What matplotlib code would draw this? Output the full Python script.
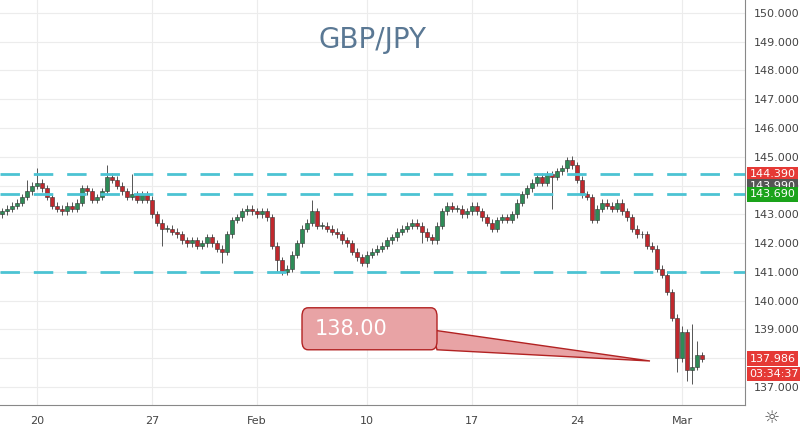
import numpy as np
import matplotlib.pyplot as plt
from matplotlib.patches import FancyBboxPatch, Polygon

# 8h candles, closes
closes = [143.1, 143.2, 143.3, 143.4, 143.6, 143.8, 144.0,
          144.1, 143.9, 143.6, 143.3,
          143.2, 143.1, 143.3, 143.2, 143.4,
          143.9, 143.8, 143.5, 143.6, 143.8,
          144.3, 144.2, 144.0, 143.8, 143.6,
          143.7, 143.5, 143.7, 143.5, 143.0,
          142.7, 142.5, 142.5, 142.4, 142.3,
          142.1, 142.0, 142.1, 141.9, 142.0,
          142.2, 142.0, 141.8, 141.7, 142.3,
          142.8, 142.9, 143.1, 143.2, 143.1,
          143.0, 143.1, 142.9, 141.9, 141.4,
          141.0, 141.1, 141.6, 142.0, 142.5,
          142.7, 143.1, 142.6, 142.6, 142.5,
          142.4, 142.3, 142.1, 142.0, 141.7,
          141.5, 141.3, 141.6, 141.7, 141.8,
          141.9, 142.1, 142.2, 142.4, 142.5,
          142.6, 142.7, 142.6, 142.4, 142.2,
          142.1, 142.6, 143.1, 143.3, 143.2,
          143.2, 143.0, 143.1, 143.3, 143.1,
          142.9, 142.7, 142.5, 142.8, 142.9,
          142.8, 143.0, 143.4, 143.7, 143.9,
          144.1, 144.3, 144.1, 144.4, 144.3,
          144.5, 144.6, 144.9, 144.7, 144.2,
          143.7, 143.6, 142.8, 143.2, 143.4,
          143.3, 143.2, 143.4, 143.1, 142.9,
          142.5, 142.3, 142.3, 141.9, 141.8,
          141.1, 140.9, 140.3, 139.4, 138.0,
          138.9, 137.6, 137.7, 138.1, 137.986]
first_open = 143.0
wick = 0.12
# notable wick extremes: index -> (high, low)
spikes = {5: (144.2, None), 7: (144.6, None), 21: (144.7, None), 26: (144.4, None),
          32: (None, 141.9), 44: (None, 141.3), 55: (None, 141.0), 56: (None, 140.9),
          62: (143.5, None), 72: (None, 141.2), 84: (None, 142.0), 110: (None, 143.2),
          113: (145.0, None), 118: (None, 142.7), 135: (None, 137.5), 136: (139.1, None),
          137: (None, 137.2), 138: (139.2, 137.1), 139: (138.6, None)}

tick_pos = [7, 30, 51, 73, 94, 115, 136]
tick_labels = ["20", "27", "Feb", "10", "17", "24", "Mar"]
levels = [144.39, 143.69, 141.0]
target = "138.00"

fig = plt.figure(figsize=(8, 4.3), dpi=100)
ax = fig.add_axes([0, 25 / 430, 745 / 800, 405 / 430])

opens = [first_open] + closes[:-1]
for i, (o, c) in enumerate(zip(opens, closes)):
    col = "#2e8b57" if c >= o else "#c0282d"
    hi = max(o, c) + wick
    lo = min(o, c) - wick
    if i in spikes:
        h, l = spikes[i]
        hi = h if h is not None else hi
        lo = l if l is not None else lo
    ax.vlines(i, lo, hi, color="#555555", lw=0.7, zorder=2)
    bot = min(o, c)
    ax.bar(i, max(abs(c - o), 0.03), bottom=bot, width=0.65, color=col,
           edgecolor="#333333", lw=0.4, zorder=3)

for lv in levels:
    ax.axhline(lv, color="#4cc3d3", lw=2, ls=(0, (7, 5)), zorder=4)

# target callout
ax.add_patch(Polygon([(86, 138.98), (87, 138.29), (129.6, 137.90)], closed=True,
                     facecolor="#e8a3a5", edgecolor="#b22222", lw=1, zorder=5))
ax.add_patch(FancyBboxPatch((60.0, 138.29), 27.0, 1.46, boxstyle="round,pad=0,rounding_size=1.2",
                            mutation_aspect=0.25, facecolor="#e8a3a5", edgecolor="#b22222",
                            lw=1, zorder=6))
ax.text(62.5, 139.02, target, color="white", fontsize=15, va="center", ha="left", zorder=7)

ax.text(0.5, 0.9, "GBP/JPY", transform=ax.transAxes, color="#5a7894", fontsize=20,
        ha="center", va="center")

ax.set_xlim(-0.4, 148.6)
ax.set_ylim(136.37, 150.45)
ax.set_xticks(tick_pos)
ax.set_xticklabels(tick_labels)
ax.set_yticks(np.arange(137, 151, 1))
ax.set_yticklabels(["%.3f" % v for v in np.arange(137, 151, 1)])
ax.yaxis.tick_right()
ax.tick_params(axis="both", length=0, labelsize=8, colors="#444444")
ax.tick_params(axis="y", pad=6)
ax.tick_params(axis="x", pad=8)
ax.grid(True, color="#ececec", lw=0.8, zorder=0)
for s in ["top", "left"]:
    ax.spines[s].set_visible(False)
ax.spines["right"].set_color("#888888")
ax.spines["bottom"].set_color("#888888")

# price labels on right axis (they cover the tick labels, as in the app)
tags = [(144.39, "144.390", "#e53935"), (143.99, "143.990", "#555555"),
        (143.69, "143.690", "#1aa31a"), (137.986, "137.986", "#e53935"),
        (137.45, "03:34:37", "#e53935")]
for v, s, c in tags:
    ax.text(1.006, v, s, transform=ax.get_yaxis_transform(), fontsize=8,
            color="white", va="center", ha="left", zorder=10,
            bbox=dict(boxstyle="square,pad=0.2", fc=c, ec="none"))
fig.text(772 / 800, 12 / 430, "\u263c", fontsize=13, color="#555555", ha="center", va="center")

fig.savefig("out.png", dpi=100)
